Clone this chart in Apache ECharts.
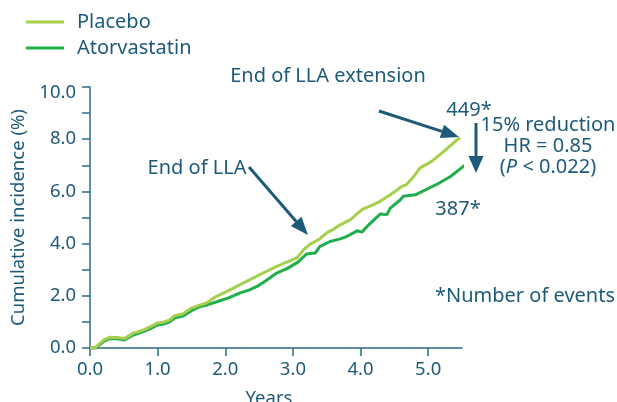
<!DOCTYPE html>
<html>
<head>
<meta charset="utf-8">
<script src="https://cdn.jsdelivr.net/npm/echarts@6/dist/echarts.min.js"></script>
<style>
  html, body { margin: 0; padding: 0; background: #fff; }
  #chart { width: 617px; height: 402px; }
</style>
</head>
<body>
<div id="chart"></div>
<script>
// values (years, cumulative incidence %)
const placebo = [
  [0, 0.02], [0.08, 0.02], [0.2, 0.3], [0.29, 0.41], [0.4, 0.4], [0.51, 0.36],
  [0.64, 0.57], [0.76, 0.66], [0.88, 0.8], [1.0, 0.96], [1.1, 1.0], [1.18, 1.08],
  [1.25, 1.24], [1.37, 1.3], [1.5, 1.53], [1.63, 1.65], [1.72, 1.72], [1.87, 1.98],
  [2.05, 2.2], [2.22, 2.43], [2.35, 2.6], [2.51, 2.81], [2.62, 2.95], [2.76, 3.13],
  [2.9, 3.28], [3.06, 3.45], [3.16, 3.77], [3.25, 3.97], [3.38, 4.15], [3.5, 4.41],
  [3.6, 4.55], [3.7, 4.72], [3.85, 4.92], [4.02, 5.3], [4.19, 5.49], [4.29, 5.62],
  [4.44, 5.87], [4.61, 6.19], [4.68, 6.26], [4.78, 6.55], [4.88, 6.9], [5.05, 7.15],
  [5.23, 7.53], [5.47, 8.07]
]
const atorvastatin = [
  [0, 0], [0.08, 0], [0.2, 0.25], [0.29, 0.36], [0.4, 0.35], [0.51, 0.31],
  [0.64, 0.5], [0.76, 0.6], [0.88, 0.72], [1.0, 0.88], [1.1, 0.93], [1.18, 1.0],
  [1.25, 1.15], [1.37, 1.22], [1.5, 1.43], [1.63, 1.59], [1.72, 1.64], [1.92, 1.81],
  [2.05, 1.92], [2.22, 2.11], [2.35, 2.22], [2.47, 2.36], [2.6, 2.58], [2.76, 2.87],
  [2.92, 3.05], [3.08, 3.3], [3.2, 3.6], [3.33, 3.64], [3.4, 3.89], [3.55, 4.08],
  [3.7, 4.18], [3.8, 4.28], [3.95, 4.49], [4.02, 4.44], [4.12, 4.72], [4.29, 5.13],
  [4.39, 5.11], [4.44, 5.36], [4.59, 5.68], [4.63, 5.81], [4.81, 5.87], [5.03, 6.15],
  [5.15, 6.3], [5.33, 6.57], [5.57, 7.06]
]
const xTicks = [0, 1, 2, 3, 4, 5]
const yTicks = [0, 1, 2, 3, 4, 5, 6, 7, 8, 9, 10]
const yLabels = [0, 2, 4, 6, 8, 10]

const TEXT = '#1d5a79'
const AXIS = '#2d6b87'
const FONT = 'Noto Sans'

// arrow = shaft + filled head, pixel positions for the annotations
function arrow(x1, y1, x2, y2, head = 18, half = 7) {
  const dx = x2 - x1, dy = y2 - y1
  const len = Math.sqrt(dx * dx + dy * dy)
  const ux = dx / len, uy = dy / len
  const bx = x2 - ux * head, by = y2 - uy * head
  return [
    {
      type: 'line',
      shape: { x1, y1, x2: bx, y2: by },
      style: { stroke: TEXT, lineWidth: 3 }
    },
    {
      type: 'polygon',
      shape: { points: [[x2, y2], [bx - uy * half, by + ux * half], [bx + uy * half, by - ux * half]] },
      style: { fill: TEXT }
    }
  ]
}

function label(text, x, y, extra = {}) {
  return {
    type: 'text',
    x, y,
    style: Object.assign({
      text, fill: TEXT, font: '20px "Noto Sans"',
      align: 'center', verticalAlign: 'middle'
    }, extra)
  }
}

const chart = echarts.init(document.getElementById('chart'))

chart.setOption({
  animation: false,
  textStyle: { fontFamily: FONT },
  legend: {
    orient: 'vertical',
    left: 26,
    top: 9,
    padding: 0,
    itemGap: 0,
    icon: 'rect',
    itemWidth: 38,
    itemHeight: 3,
    textStyle: { color: TEXT, fontSize: 20, lineHeight: 26, fontFamily: FONT, padding: [0, 0, 0, 8] },
    data: ['Placebo', 'Atorvastatin']
  },
  grid: { left: 90, right: 155, top: 87, bottom: 54, outerBoundsMode: 'none', containLabel: false },
  xAxis: {
    type: 'value',
    min: 0,
    max: 5.5,
    interval: 1,
    name: 'Years',
    nameLocation: 'middle',
    nameGap: 41,
    nameTextStyle: { color: TEXT, fontSize: 18.5, padding: [0, 14, 0, 0] },
    axisLine: { lineStyle: { color: AXIS, width: 1.5 } },
    axisTick: { length: 8, customValues: xTicks, lineStyle: { color: AXIS, width: 1.5 } },
    axisLabel: { customValues: xTicks, color: TEXT, fontSize: 18.5, margin: 12, formatter: v => v.toFixed(1) },
    splitLine: { show: false }
  },
  yAxis: {
    type: 'value',
    min: 0,
    max: 10,
    interval: 1,
    name: 'Cumulative incidence (%)',
    nameLocation: 'middle',
    nameGap: 55,
    nameTextStyle: { color: TEXT, fontSize: 18.5 },
    axisLine: { show: true, lineStyle: { color: AXIS, width: 1.5 } },
    axisTick: { show: true, length: 8, customValues: yTicks, lineStyle: { color: AXIS, width: 1.5 } },
    axisLabel: {
      customValues: yLabels,
      color: TEXT,
      fontSize: 18.5,
      margin: 14,
      // top label sits a little below its tick in the original
      formatter: v => v === 10 ? '{top|' + v.toFixed(1) + '}' : v.toFixed(1),
      rich: { top: { color: TEXT, fontSize: 18.5, fontFamily: FONT, padding: [12, 0, 0, 0] } }
    },
    splitLine: { show: false }
  },
  series: [
    {
      name: 'Placebo',
      type: 'line',
      data: placebo,
      showSymbol: false,
      clip: false,
      z: 3,
      color: '#a6cf4d',
      lineStyle: { width: 3, color: '#a6cf4d' }
    },
    {
      name: 'Atorvastatin',
      type: 'line',
      data: atorvastatin,
      showSymbol: false,
      clip: false,
      z: 2,
      color: '#1fae4b',
      lineStyle: { width: 3, color: '#1fae4b' }
    }
  ],
  graphic: [
    label('End of LLA extension', 328, 76),
    ...arrow(379, 111, 459, 137),
    label('End of LLA', 197, 168),
    ...arrow(249, 167, 308, 235),
    label('449*', 469, 110),
    ...arrow(476, 123, 476, 173, 17, 7.5),
    label('15% reduction', 548, 125),
    label('HR = 0.85', 548, 146),
    {
      type: 'text',
      x: 548,
      y: 167,
      style: {
        text: '({i|P} < 0.022)',
        fill: TEXT,
        font: '20px "Noto Sans"',
        align: 'center',
        verticalAlign: 'middle',
        rich: { i: { fontStyle: 'italic', fontSize: 20, fontFamily: FONT, fill: TEXT } }
      }
    },
    label('387*', 458, 209),
    label('*Number of events', 525, 296)
  ]
})
</script>
</body>
</html>
